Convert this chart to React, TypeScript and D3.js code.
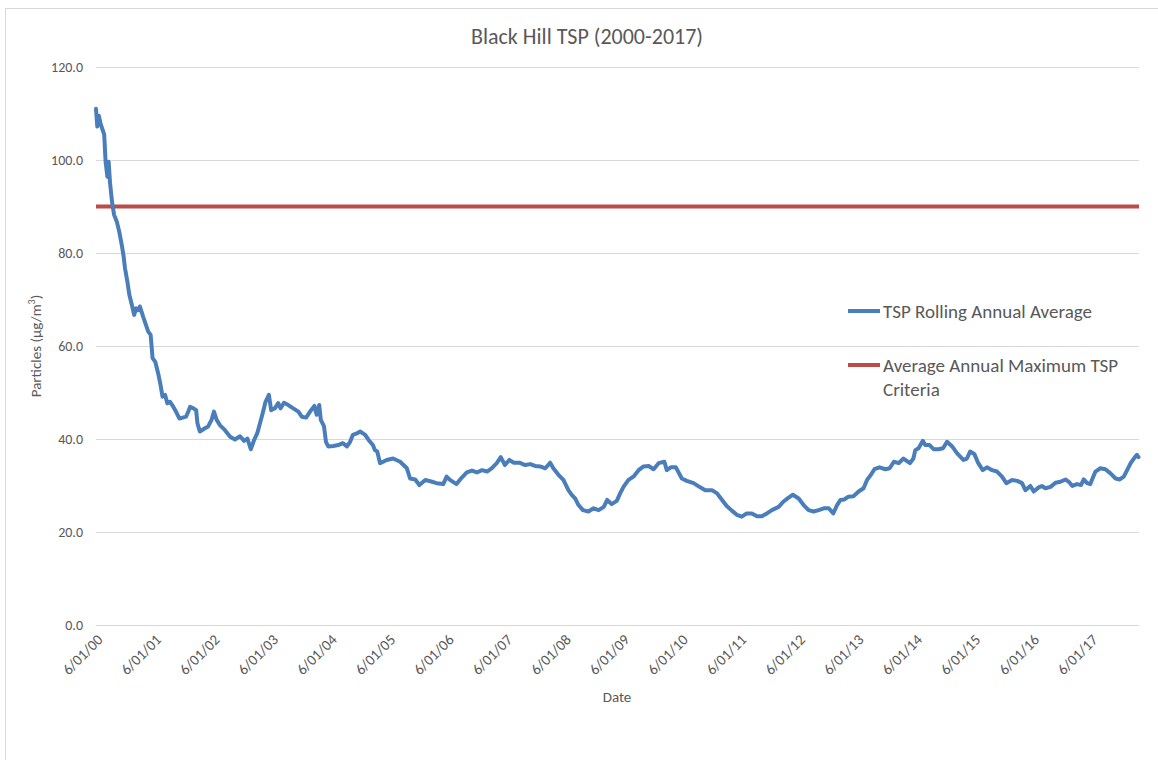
import React from "react";
import * as d3 from "d3";

const title = "Black Hill TSP (2000-2017)";
const seriesName = "TSP Rolling Annual Average";
const criteriaName = "Average Annual Maximum TSP";
const criteriaName2 = "Criteria";
const criteriaValue = 90;
const yTicks = [0, 20, 40, 60, 80, 100, 120];
const xTickYears = d3.range(2000, 2018);
const xDomain = ["2000-06-01", "2018-03-28"];

const dates: string[] = [
  "2000-06-01","2000-06-09","2000-06-19","2000-06-29","2000-07-12","2000-07-22","2000-07-31","2000-08-11","2000-08-19","2000-08-27",
  "2000-09-09","2000-09-22","2000-10-09","2000-10-24","2000-11-09","2000-11-19","2000-11-29","2000-12-14","2000-12-26","2001-01-11",
  "2001-01-25","2001-02-07","2001-02-21","2001-03-02","2001-03-22","2001-04-09","2001-04-23","2001-05-08","2001-05-20","2001-06-06",
  "2001-06-24","2001-07-09","2001-07-21","2001-08-06","2001-08-20","2001-09-06","2001-09-27","2001-10-13","2001-11-04","2001-11-24",
  "2001-12-15","2001-12-29","2002-01-09","2002-01-30","2002-02-16","2002-02-24","2002-03-11","2002-04-12","2002-05-02","2002-05-23",
  "2002-06-07","2002-06-24","2002-07-14","2002-08-15","2002-09-16","2002-10-16","2002-11-17","2002-12-12","2003-01-02","2003-01-23",
  "2003-02-13","2003-03-04","2003-03-24","2003-04-10","2003-04-25","2003-05-16","2003-05-30","2003-06-22","2003-07-13","2003-07-28",
  "2003-08-18","2003-09-14","2003-10-15","2003-11-16","2003-12-07","2004-01-03","2004-01-28","2004-02-24","2004-03-09","2004-03-25",
  "2004-04-04","2004-04-24","2004-05-06","2004-05-20","2004-06-21","2004-07-22","2004-08-19","2004-09-14","2004-10-04","2004-10-21",
  "2004-11-15","2004-12-05","2005-01-06","2005-01-27","2005-02-23","2005-03-08","2005-03-22","2005-04-04","2005-04-09","2005-05-20",
  "2005-06-29","2005-08-12","2005-09-23","2005-10-13","2005-11-14","2005-12-10","2006-01-16","2006-02-27","2006-03-28","2006-05-08",
  "2006-05-29","2006-06-19","2006-07-30","2006-09-01","2006-10-02","2006-11-03","2006-12-04","2007-01-05","2007-02-05","2007-03-06",
  "2007-04-07","2007-05-02","2007-05-28","2007-06-24","2007-07-23","2007-08-26","2007-10-01","2007-11-02","2007-12-02","2008-01-03",
  "2008-02-04","2008-03-05","2008-03-25","2008-04-26","2008-05-27","2008-06-27","2008-07-18","2008-08-09","2008-08-29","2008-09-26",
  "2008-10-30","2008-12-01","2009-01-02","2009-02-03","2009-02-24","2009-03-24","2009-04-25","2009-05-16","2009-06-06","2009-07-07",
  "2009-08-07","2009-09-08","2009-10-09","2009-11-10","2009-12-11","2010-01-11","2010-02-16","2010-03-03","2010-03-28","2010-04-29",
  "2010-06-05","2010-07-06","2010-08-17","2010-09-28","2010-10-29","2010-12-10","2011-01-11","2011-02-11","2011-03-12","2011-04-13",
  "2011-05-14","2011-06-14","2011-07-15","2011-08-16","2011-09-17","2011-10-17","2011-11-18","2011-12-19","2012-01-30","2012-02-28",
  "2012-04-01","2012-04-28","2012-06-03","2012-07-04","2012-08-04","2012-09-05","2012-10-06","2012-11-07","2012-12-08","2013-01-05",
  "2013-01-29","2013-02-19","2013-03-14","2013-04-10","2013-05-11","2013-06-12","2013-07-13","2013-08-04","2013-08-28","2013-09-19",
  "2013-10-21","2013-11-26","2013-12-23","2014-01-18","2014-02-18","2014-03-19","2014-04-29","2014-05-20","2014-06-01","2014-06-21",
  "2014-07-18","2014-08-02","2014-08-29","2014-09-23","2014-10-24","2014-11-21","2014-12-16","2015-01-17","2015-02-17","2015-03-28",
  "2015-04-19","2015-05-09","2015-06-04","2015-06-29","2015-07-27","2015-08-22","2015-09-23","2015-10-24","2015-11-24","2015-12-21",
  "2016-01-26","2016-02-27","2016-03-28","2016-04-18","2016-05-19","2016-06-09","2016-07-10","2016-07-30","2016-08-21","2016-09-22",
  "2016-10-23","2016-11-23","2016-12-24","2017-01-14","2017-02-05","2017-03-06","2017-03-31","2017-04-17","2017-05-08","2017-05-28",
  "2017-06-29","2017-07-30","2017-08-30","2017-10-01","2017-11-02","2017-11-28","2017-12-23","2018-01-13","2018-02-04","2018-02-24",
  "2018-03-15","2018-03-25"
];

const values: number[] = [
  111.0,107.2,109.5,107.9,106.5,105.5,99.6,96.4,99.6,95.3,
  91.0,88.2,86.7,84.6,81.7,79.6,76.7,73.8,71.0,68.8,
  66.7,68.1,67.7,68.5,66.3,64.5,63.1,62.4,57.4,56.6,
  54.1,51.6,49.1,49.5,47.7,48.0,46.9,45.9,44.4,44.6,
  44.8,45.9,46.9,46.6,46.2,43.4,41.6,42.3,42.7,44.1,
  45.9,44.1,43.0,41.9,40.5,39.9,40.6,39.6,40.1,37.8,
  39.8,41.2,43.7,45.9,48.0,49.5,46.2,46.6,47.7,46.6,
  47.8,47.3,46.6,45.9,44.8,44.6,45.9,47.1,45.2,47.3,
  44.1,42.7,39.4,38.4,38.5,38.7,39.1,38.4,39.4,40.9,
  41.2,41.6,40.9,39.8,38.7,37.6,37.3,35.5,34.8,35.5,
  35.8,35.1,33.7,31.5,31.3,30.1,31.2,30.8,30.5,30.3,
  31.9,31.2,30.3,31.7,32.8,33.2,32.8,33.3,33.0,33.7,
  34.8,36.1,34.4,35.5,34.9,34.9,34.4,34.6,34.2,34.1,
  33.7,34.9,33.7,32.3,31.2,29.0,28.0,27.2,25.8,24.7,
  24.4,25.1,24.7,25.4,26.9,26.0,26.7,28.3,29.7,31.2,
  31.9,33.3,34.1,34.2,33.5,34.8,35.1,33.3,33.9,33.9,
  31.5,31.0,30.5,29.6,29.0,29.0,28.3,26.9,25.6,24.6,
  23.7,23.3,24.0,24.0,23.4,23.4,24.0,24.7,25.4,26.5,
  27.4,28.0,27.2,25.8,24.7,24.4,24.7,25.1,25.1,24.0,
  25.8,26.9,27.0,27.6,27.7,28.7,29.4,31.2,32.3,33.5,
  33.9,33.5,33.7,35.1,34.8,35.8,34.8,35.8,37.6,38.0,
  39.6,38.7,38.7,37.8,37.8,38.0,39.4,38.4,36.9,35.5,
  35.8,37.3,36.8,34.8,33.3,33.9,33.3,33.0,31.9,30.5,
  31.2,31.0,30.5,29.0,29.9,28.7,29.6,29.9,29.4,29.7,
  30.6,30.8,31.3,30.8,29.9,30.3,30.1,31.3,30.5,30.3,
  33.0,33.7,33.5,32.6,31.5,31.3,31.9,33.3,34.8,35.8,
  36.6,36.1
];

const W = 1158;
const H = 760;
const M = { left: 96, right: 1139, top: 67, bottom: 625 };
const FONT = "Carlito, Calibri, Lato, 'Noto Sans', sans-serif";
const TEXT = "#595959";
const GRID = "#d9d9d9";
const BLUE = "#4a7ebb";
const RED = "#be4b48";

export default function App() {
  const parse = d3.timeParse("%Y-%m-%d");
  const fmt = d3.timeFormat("%-m/%d/%y");
  const x = d3.scaleTime().domain(xDomain.map((d) => parse(d) as Date)).range([M.left, M.right]);
  const y = d3.scaleLinear().domain([0, 120]).range([M.bottom, M.top]);
  const data = dates.map((d, i) => ({ date: parse(d) as Date, value: values[i] }));
  const line = d3
    .line<{ date: Date; value: number }>()
    .x((d) => x(d.date))
    .y((d) => y(d.value));
  const xTicks = xTickYears.map((yr) => new Date(yr, 5, 1));
  const yFmt = d3.format(".1f");

  return (
    <div style={{ position: "absolute", left: 0, top: 0 }}>
      <svg width={W} height={H} style={{ display: "block", background: "#fff" }} fontFamily={FONT}>
        <rect x={5.5} y={8.5} width={W + 10} height={H + 10} fill="#fff" stroke={GRID} strokeWidth={1} />
        <text x={587} y={44} textAnchor="middle" fontSize={22} fill={TEXT}>
          {title}
        </text>
        {yTicks.map((t) => (
          <g key={t}>
            <line x1={M.left} x2={M.right} y1={Math.round(y(t)) + 0.5} y2={Math.round(y(t)) + 0.5} stroke={GRID} strokeWidth={1} />
            <text x={83} y={y(t)} dy="0.35em" textAnchor="end" fontSize={14} fill={TEXT}>
              {yFmt(t)}
            </text>
          </g>
        ))}
        {xTicks.map((d, i) => (
          <text
            key={i}
            transform={`translate(${x(d) + 4},${M.bottom + 12}) rotate(-45)`}
            textAnchor="end"
            dy="0.35em"
            fontSize={15}
            fill={TEXT}
          >
            {fmt(d)}
          </text>
        ))}
        <text x={617} y={702} textAnchor="middle" fontSize={15} fill={TEXT}>
          Date
        </text>
        <text transform={`translate(41,346) rotate(-90)`} textAnchor="middle" fontSize={15} fill={TEXT}>
          Particles (µg/m<tspan dy={-6} fontSize={10}>3</tspan>
          <tspan dy={6}>)</tspan>
        </text>
        <line x1={M.left} x2={M.right} y1={y(criteriaValue)} y2={y(criteriaValue)} stroke={RED} strokeWidth={4} />
        <path d={line(data) || ""} fill="none" stroke={BLUE} strokeWidth={4} strokeLinejoin="round" strokeLinecap="round" />
        <line x1={848} x2={880} y1={311} y2={311} stroke={BLUE} strokeWidth={4} />
        <text x={883} y={311} dy="0.35em" fontSize={19} fill={TEXT}>
          {seriesName}
        </text>
        <line x1={848} x2={880} y1={365} y2={365} stroke={RED} strokeWidth={4} />
        <text x={883} y={365} dy="0.35em" fontSize={19} fill={TEXT}>
          {criteriaName}
        </text>
        <text x={883} y={389} dy="0.35em" fontSize={19} fill={TEXT}>
          {criteriaName2}
        </text>
      </svg>
    </div>
  );
}
